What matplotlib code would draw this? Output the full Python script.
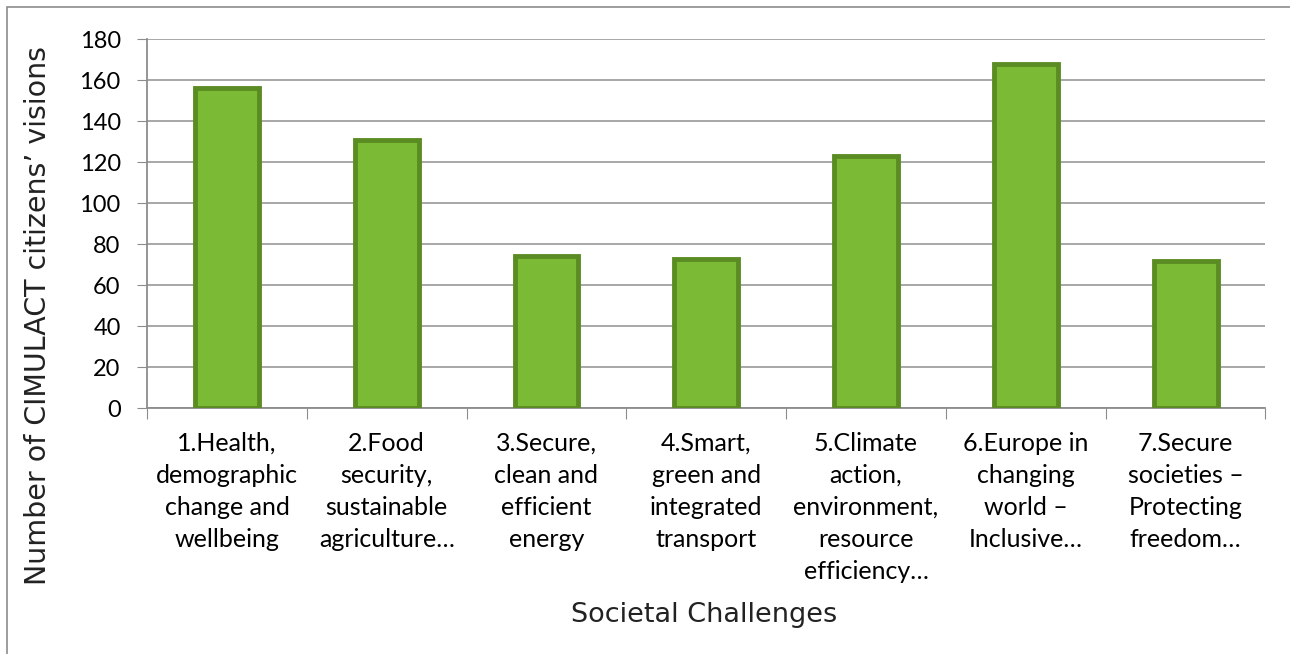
import matplotlib.pyplot as plt
import matplotlib.patches as mpatches
import numpy as np

categories = [
    "1.Health,\ndemographic\nchange and\nwellbeing",
    "2.Food\nsecurity,\nsustainable\nagriculture\u2026",
    "3.Secure,\nclean and\nefficient\nenergy",
    "4.Smart,\ngreen and\nintegrated\ntransport",
    "5.Climate\naction,\nenvironment,\nresource\nefficiency\u2026",
    "6.Europe in\nchanging\nworld \u2013\nInclusive\u2026",
    "7.Secure\nsocieties \u2013\nProtecting\nfreedom\u2026",
]
visions = [156, 131, 74, 73, 123, 168, 72]
yticks = list(range(0, 181, 20))

fig = plt.figure(figsize=(12.9, 6.54), dpi=100)
ax = fig.add_axes([0.114, 0.376, 0.867, 0.564])

# outer chart border
fig.patches.append(mpatches.Rectangle((7 / 1290, -0.01), 1.02, 1 - 7 / 654 + 0.01,
                                      transform=fig.transFigure, fill=False,
                                      edgecolor="#8c8c8c", linewidth=1.2))

x = np.arange(len(categories))
ax.bar(x, visions, width=0.4, color="#7aba34", edgecolor="#5b8c23", linewidth=3.5, zorder=3)

ax.set_xlim(-0.5, len(categories) - 0.5)
ax.set_ylim(0, 180)
ax.set_yticks(yticks)
ax.tick_params(axis="y", labelsize=17, length=7, color="#8c8c8c", pad=12)
ax.yaxis.grid(True, color="#a0a0a0", linewidth=1.3, zorder=0)
ax.set_axisbelow(True)

ax.set_xticks(np.arange(-0.5, len(categories), 1.0))
ax.set_xticklabels([])
ax.set_xticks(x, minor=True)
ax.set_xticklabels(categories, minor=True, fontsize=18, family="Lato", linespacing=1.48, va="top")
ax.tick_params(axis="x", which="major", length=8, color="#8c8c8c", direction="out")
ax.tick_params(axis="x", which="minor", length=0, pad=17)
for lab in ax.get_yticklabels():
    lab.set_family("Lato")

for side in ["top", "right"]:
    ax.spines[side].set_visible(False)
for side in ["left", "bottom"]:
    ax.spines[side].set_color("#8c8c8c")
    ax.spines[side].set_linewidth(1.3)

ax.set_ylabel("Number of CIMULACT citizens\u2019 visions", fontsize=20.5, color="#222222")
ax.yaxis.set_label_coords(-0.085, 0.25)
fig.text(0.546, 0.06, "Societal Challenges", ha="center", va="center", fontsize=19.5, color="#222222")

fig.savefig("out.png", dpi=100)
